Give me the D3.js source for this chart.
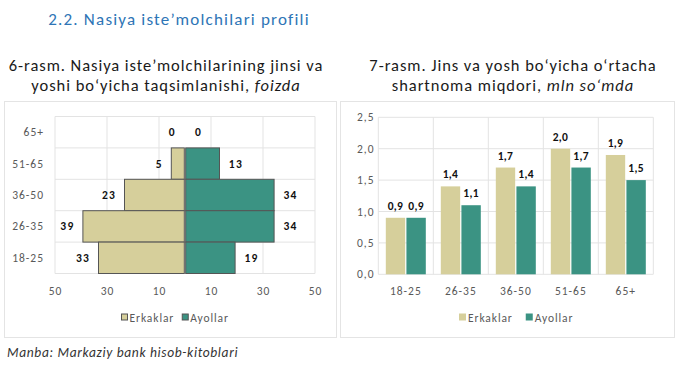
<!DOCTYPE html>
<html>
<head>
<meta charset="utf-8">
<script src="https://cdn.jsdelivr.net/npm/d3@7"></script>
<style>
  body { margin: 0; background: #fff; }
  text { font-family: Carlito, Calibri, Lato, "Open Sans", sans-serif; }
</style>
</head>
<body>
<script>
// data
var ageGroups = ["65+", "51-65", "36-50", "26-35", "18-25"];
var menShare = [0, 5, 23, 39, 33];
var womenShare = [0, 13, 34, 34, 19];
var pyramidTicks = [-50, -30, -10, 10, 30, 50];

var ageOrder = ["18-25", "26-35", "36-50", "51-65", "65+"];
var menAmount = [0.9, 1.4, 1.7, 2.0, 1.9];
var womenAmount = [0.9, 1.1, 1.4, 1.7, 1.5];
var amountTicks = [0, 0.5, 1.0, 1.5, 2.0, 2.5];

var seriesNames = ["Erkaklar", "Ayollar"];

var width = 680, height = 374;
var khaki = "#d6cf9b", teal = "#3b9383";
var gridColor = "#e3e3e3", axisText = "#595959";
var tickFont = "11.5px", tickSpacing = "1px";

var svg = d3.select("body").append("svg")
  .attr("width", width)
  .attr("height", height);

svg.append("text")
  .attr("x", 179).attr("y", 25)
  .attr("text-anchor", "middle")
  .attr("fill", "#2e75b6")
  .style("font-size", "17px")
  .style("letter-spacing", "1.2px")
  .text("2.2. Nasiya iste\u2019molchilari profili");

// panel boxes
[[4, 101, 332, 236], [340, 101, 334, 236]].forEach(function(b) {
  svg.append("rect")
    .attr("x", b[0] + 0.5).attr("y", b[1] + 0.5)
    .attr("width", b[2]).attr("height", b[3])
    .attr("fill", "none").attr("stroke", "#e4e4e4");
});

function title(cx, line1, line2, italic) {
  svg.append("text")
    .attr("x", cx).attr("y", 71)
    .attr("text-anchor", "middle")
    .attr("fill", "#1a1a1a")
    .style("font-size", "16.5px")
    .style("letter-spacing", "0.95px")
    .text(line1);
  var t2 = svg.append("text")
    .attr("x", cx).attr("y", 91)
    .attr("text-anchor", "middle")
    .attr("fill", "#1a1a1a")
    .style("font-size", "16.5px")
    .style("letter-spacing", "0.95px")
    .text(line2);
  t2.append("tspan").style("font-style", "italic").text(italic);
}
title(166, "6-rasm. Nasiya iste\u2019molchilarining jinsi va", "yoshi bo\u2018yicha taqsimlanishi, ", "foizda");
title(513, "7-rasm. Jins va yosh bo\u2018yicha o\u2018rtacha", "shartnoma miqdori, ", "mln so\u2018mda");

// ---------- pyramid ----------
var px = d3.scaleLinear().domain([-50, 50]).range([55, 315]);
var py = d3.scaleBand().domain(ageGroups).range([116.5, 273.5]).padding(0);

var pg = svg.append("g");
pg.selectAll(".vgrid")
  .data(pyramidTicks)
  .enter().append("line")
  .attr("x1", function(d) { return px(d); })
  .attr("x2", function(d) { return px(d); })
  .attr("y1", py.range()[0]).attr("y2", py.range()[1])
  .attr("stroke", gridColor);
pg.selectAll(".hgrid")
  .data(ageGroups.concat(["end"]))
  .enter().append("line")
  .attr("x1", px(-50)).attr("x2", px(50))
  .attr("y1", function(d, i) { return py.range()[0] + i * py.bandwidth(); })
  .attr("y2", function(d, i) { return py.range()[0] + i * py.bandwidth(); })
  .attr("stroke", gridColor);

var pxAxis = d3.axisBottom(px).tickValues(pyramidTicks)
  .tickFormat(function(d) { return Math.abs(d); }).tickSize(0).tickPadding(0);
var pxg = svg.append("g").attr("transform", "translate(0,295)").call(pxAxis);
pxg.select(".domain").remove();
pxg.selectAll("text").attr("fill", axisText).attr("dy", 0)
  .style("font-size", tickFont).style("letter-spacing", tickSpacing);

var pyAxis = d3.axisLeft(py).tickSize(0).tickPadding(0);
var pyg = svg.append("g").attr("transform", "translate(44,0)").call(pyAxis);
pyg.select(".domain").remove();
pyg.selectAll("text").attr("fill", axisText).attr("dy", "0.35em")
  .style("font-size", tickFont).style("letter-spacing", tickSpacing);

var pmen = ageGroups.map(function(a, i) { return { age: a, v: menShare[i] }; });
var pwomen = ageGroups.map(function(a, i) { return { age: a, v: womenShare[i] }; });

pg.selectAll(".men").data(pmen).enter().append("rect")
  .attr("x", function(d) { return px(-d.v) - 0.7; })
  .attr("width", function(d) { return px(0) - px(-d.v); })
  .attr("y", function(d) { return py(d.age); })
  .attr("height", py.bandwidth())
  .attr("fill", khaki).attr("stroke", "#555").attr("stroke-width", 1);
pg.selectAll(".women").data(pwomen).enter().append("rect")
  .attr("x", px(0) + 0.7)
  .attr("width", function(d) { return px(d.v) - px(0); })
  .attr("y", function(d) { return py(d.age); })
  .attr("height", py.bandwidth())
  .attr("fill", teal).attr("stroke", "#555").attr("stroke-width", 1);

pg.selectAll(".menLab").data(pmen).enter().append("text")
  .attr("x", function(d) { return px(-d.v) - 9; })
  .attr("y", function(d) { return py(d.age) + py.bandwidth() / 2; })
  .attr("dy", "0.35em").attr("text-anchor", "end")
  .attr("fill", "#111").style("font-weight", "bold").style("font-size", "11.5px")
  .style("letter-spacing", "1.3px")
  .text(function(d) { return d.v; });
pg.selectAll(".womenLab").data(pwomen).enter().append("text")
  .attr("x", function(d) { return px(d.v) + 10; })
  .attr("y", function(d) { return py(d.age) + py.bandwidth() / 2; })
  .attr("dy", "0.35em").attr("text-anchor", "start")
  .attr("fill", "#111").style("font-weight", "bold").style("font-size", "11.5px")
  .style("letter-spacing", "1.3px")
  .text(function(d) { return d.v; });

function legend(x0, y, sq, gap, outline) {
  var g = svg.append("g");
  var x = x0;
  seriesNames.forEach(function(n, i) {
    g.append("rect").attr("x", x).attr("y", y - sq / 2 - 1).attr("width", sq).attr("height", sq)
      .attr("fill", i === 0 ? khaki : teal)
      .attr("stroke", outline ? "#555" : "none");
    var t = g.append("text").attr("x", x + sq + 2).attr("y", y).attr("dy", "0.35em")
      .attr("fill", axisText).style("font-size", tickFont).style("letter-spacing", "0.9px").text(n);
    x = x + sq + 2 + t.node().getComputedTextLength() + gap;
  });
}
legend(121.5, 318, 6, 8, true);

// ---------- grouped bars ----------
var bx = d3.scaleBand().domain(ageOrder).range([378.3, 653.3]).padding(0);
var inner = d3.scaleBand().domain(seriesNames).range([7.5, 47.5]).paddingInner(0.06);
var by = d3.scaleLinear().domain([0, 2.5]).range([274.3, 117.3]);

var bg = svg.append("g");
bg.selectAll(".hgrid").data(amountTicks).enter().append("line")
  .attr("x1", bx.range()[0]).attr("x2", bx.range()[1])
  .attr("y1", function(d) { return by(d); }).attr("y2", function(d) { return by(d); })
  .attr("stroke", gridColor);
bg.selectAll(".vgrid").data(ageOrder.concat(["end"])).enter().append("line")
  .attr("x1", function(d, i) { return bx.range()[0] + i * bx.bandwidth(); })
  .attr("x2", function(d, i) { return bx.range()[0] + i * bx.bandwidth(); })
  .attr("y1", by(2.5)).attr("y2", by(0))
  .attr("stroke", gridColor);

var fmt = function(d) { return d3.format(".1f")(d).replace(".", ","); };

var byAxis = d3.axisLeft(by).tickValues(amountTicks).tickFormat(fmt).tickSize(0).tickPadding(0);
var byg = svg.append("g").attr("transform", "translate(374.5,0)").call(byAxis);
byg.select(".domain").remove();
byg.selectAll("text").attr("fill", axisText)
  .style("font-size", tickFont).style("letter-spacing", tickSpacing);

var bxAxis = d3.axisBottom(bx).tickSize(0).tickPadding(0);
var bxg = svg.append("g").attr("transform", "translate(0,295)").call(bxAxis);
bxg.select(".domain").remove();
bxg.selectAll("text").attr("fill", axisText).attr("dy", 0)
  .style("font-size", tickFont).style("letter-spacing", tickSpacing);

var bars = [];
ageOrder.forEach(function(a, i) {
  bars.push({ age: a, s: seriesNames[0], v: menAmount[i] });
  bars.push({ age: a, s: seriesNames[1], v: womenAmount[i] });
});

bg.selectAll(".bar").data(bars).enter().append("rect")
  .attr("x", function(d) { return bx(d.age) + inner(d.s); })
  .attr("width", inner.bandwidth())
  .attr("y", function(d) { return by(d.v); })
  .attr("height", function(d) { return by(0) - by(d.v); })
  .attr("fill", function(d) { return d.s === seriesNames[0] ? khaki : teal; });

bg.selectAll(".lab").data(bars).enter().append("text")
  .attr("x", function(d) { return bx(d.age) + inner(d.s) + inner.bandwidth() / 2; })
  .attr("y", function(d) { return by(d.v) - 8; })
  .attr("text-anchor", "middle")
  .attr("fill", "#111").style("font-weight", "bold").style("font-size", "11.5px")
  .style("letter-spacing", "0.3px")
  .text(function(d) { return fmt(d.v); });

legend(459, 318, 7, 13, false);

svg.append("text")
  .attr("x", 7).attr("y", 357)
  .attr("fill", "#333")
  .style("font-style", "italic").style("font-size", "13.5px")
  .style("letter-spacing", "0.65px")
  .text("Manba: Markaziy bank hisob-kitoblari");
</script>
</body>
</html>
